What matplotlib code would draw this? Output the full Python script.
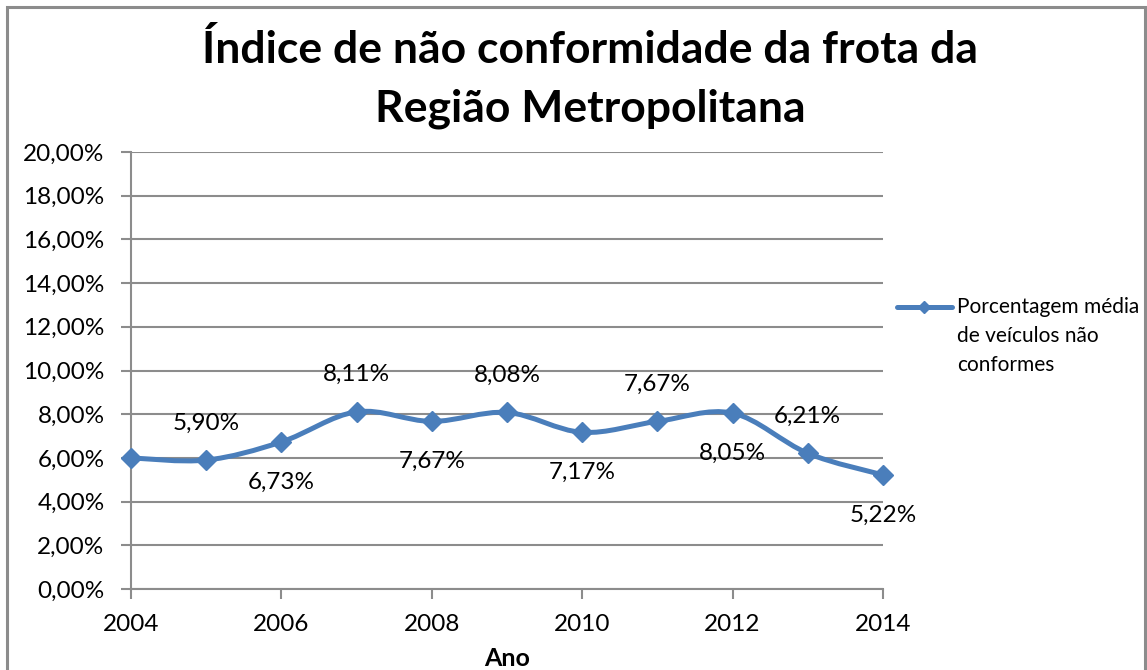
import matplotlib
matplotlib.use("Agg")
import matplotlib.pyplot as plt
from matplotlib.path import Path
from matplotlib.patches import PathPatch, Rectangle
from matplotlib.lines import Line2D
from matplotlib.ticker import FuncFormatter, MultipleLocator

plt.rcParams['font.family'] = ['Lato', 'DejaVu Sans']

anos = [2004, 2005, 2006, 2007, 2008, 2009, 2010, 2011, 2012, 2013, 2014]
valores = [6.00, 5.90, 6.73, 8.11, 7.67, 8.08, 7.17, 7.67, 8.05, 6.21, 5.22]
rotulos = [None, '5,90%', '6,73%', '8,11%', '7,67%', '8,08%', '7,17%', '7,67%', '8,05%', '6,21%', '5,22%']
posicao = [0, 1, -1, 1, -1, 1, -1, 1, -1, 1, -1]   # 1 = acima, -1 = abaixo

titulo = 'Índice de não conformidade da frota da\nRegião Metropolitana'
legenda = 'Porcentagem média\nde veículos não\nconformes'
cor = '#4A7EBB'
cinza = '#8C8C8C'

fig = plt.figure(figsize=(11.47, 6.70), dpi=100)
ax = fig.add_axes([131/1147, 81/670, 752/1147, 437/670])

# linha suavizada (bezier tipo Excel)
n = len(anos)
verts = [(anos[0], valores[0])]
codes = [Path.MOVETO]
for i in range(n - 1):
    x0, y0 = anos[max(i - 1, 0)], valores[max(i - 1, 0)]
    x1, y1 = anos[i], valores[i]
    x2, y2 = anos[i + 1], valores[i + 1]
    x3, y3 = anos[min(i + 2, n - 1)], valores[min(i + 2, n - 1)]
    verts += [(x1 + (x2 - x0) / 6, y1 + (y2 - y0) / 6),
              (x2 - (x3 - x1) / 6, y2 - (y3 - y1) / 6),
              (x2, y2)]
    codes += [Path.CURVE4] * 3
ax.add_patch(PathPatch(Path(verts, codes), facecolor='none', edgecolor=cor,
                       lw=3.6, capstyle='round', joinstyle='round', zorder=3))
ax.plot(anos, valores, linestyle='none', marker='D', markersize=10,
        color=cor, zorder=4, clip_on=False)

for x, y, r, p in zip(anos, valores, rotulos, posicao):
    if r is None:
        continue
    off = -37 if p > 0 else 40
    ax.annotate(r, (x, y), xytext=(0, -off), textcoords='offset pixels',
                ha='center', va='center', fontsize=17.5, color='black', zorder=5)

ax.set_xlim(2004, 2014)
ax.set_ylim(0, 20)
ax.xaxis.set_major_locator(MultipleLocator(2))
ax.yaxis.set_major_locator(MultipleLocator(2))
ax.yaxis.set_major_formatter(FuncFormatter(lambda v, p: ('%.2f%%' % v).replace('.', ',')))
ax.grid(axis='y', color=cinza, lw=1.5)
ax.set_axisbelow(True)
for s in ['top', 'right']:
    ax.spines[s].set_visible(False)
for s in ['left', 'bottom']:
    ax.spines[s].set_color(cinza)
    ax.spines[s].set_linewidth(1.5)
ax.tick_params(axis='both', colors=cinza, length=7, width=1.5, labelcolor='black', labelsize=17.5)
ax.tick_params(axis='y', pad=12)
ax.tick_params(axis='x', pad=11)
ax.set_xlabel('Ano', fontsize=18, fontweight='bold', labelpad=9)

fig.text(590/1147, 1 - 79/670, titulo, ha='center', va='center', fontsize=32,
         fontweight='bold', linespacing=1.57)

# legenda
fig.add_artist(Line2D([897/1147, 952/1147], [1 - 307/670, 1 - 307/670], color=cor, lw=3.6,
                      solid_capstyle='round'))
fig.add_artist(Line2D([924/1147], [1 - 307/670], marker='D', markersize=6, color=cor))
fig.text(957/1147, 1 - 297/670, legenda, ha='left', va='top', fontsize=15, linespacing=1.56)

# moldura
fig.add_artist(Rectangle((7.5/1147, -0.1), 1137/1147, 1.1 - 7.5/670, fill=False,
                         edgecolor=cinza, lw=2.2, transform=fig.transFigure))

fig.savefig('out.png', dpi=100)
